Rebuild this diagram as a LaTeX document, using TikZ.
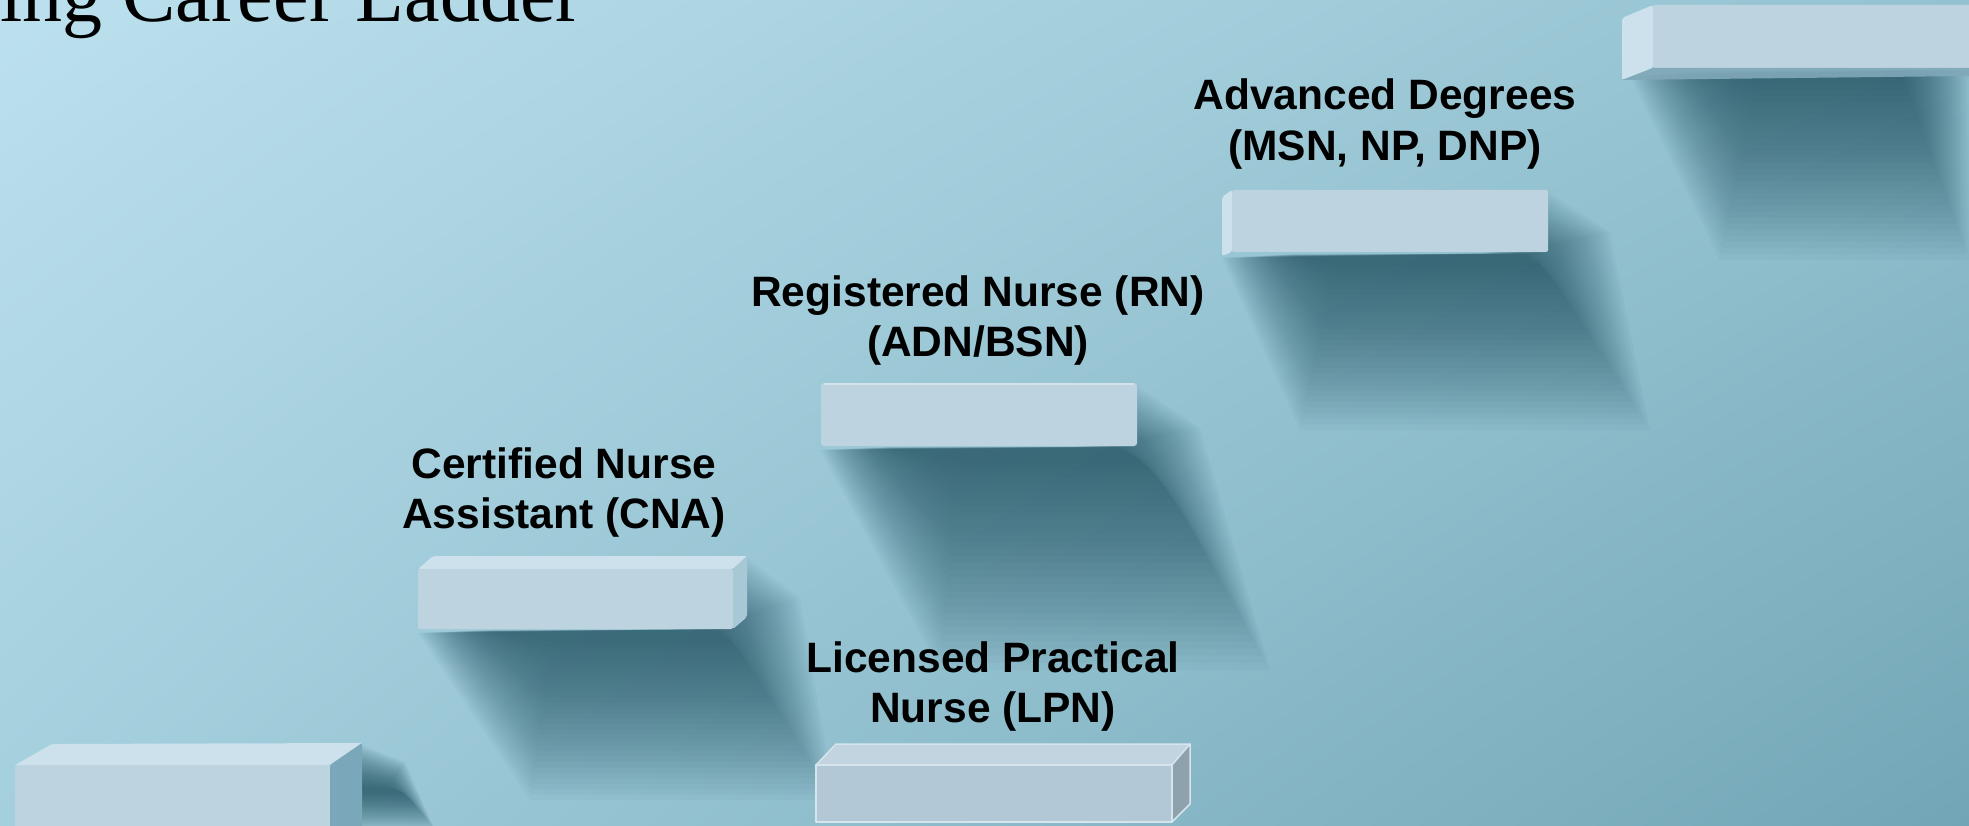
\documentclass[tikz,border=0pt]{standalone}
\usepackage{fontspec}
\setmainfont{Liberation Serif}
\setsansfont{Liberation Sans}
\usetikzlibrary{shadings}
\definecolor{bgUL}{RGB}{188,224,238}
\definecolor{bgUR}{RGB}{148,194,208}
\definecolor{bgLL}{RGB}{164,207,221}
\definecolor{bgLR}{RGB}{114,166,182}
\definecolor{shadowc}{RGB}{24,72,88}
\definecolor{stTop}{RGB}{204,225,235}
\definecolor{stFront}{RGB}{189,211,224}
\definecolor{stSide}{RGB}{168,200,214}
\definecolor{stSideDark}{RGB}{122,168,186}
\definecolor{stBottom}{RGB}{128,168,184}
\definecolor{lpnTop}{RGB}{194,212,224}
\definecolor{lpnFront}{RGB}{178,200,214}
\definecolor{lpnSide}{RGB}{142,162,174}
\definecolor{lpnLine}{RGB}{214,228,236}
\newcommand{\castshadow}[3]{%
  \foreach \k in {0,...,29}{%
    \pgfmathsetmacro{\shx}{1-0.014*\k}%
    \pgfmathsetmacro{\shy}{1-0.032*\k}%
    \begin{scope}[shift={(#1,#2)}, xscale=\shx, yscale=\shy, shift={(-#1,-#2)}]
      \fill[shadowc, opacity=0.034] #3;
    \end{scope}
  }%
}
\begin{document}
\begin{tikzpicture}[x=1pt,y=-1pt,
  lbl/.style={font=\sffamily\bfseries\fontsize{42.5}{50}\selectfont, anchor=base, inner sep=0pt, text=black},
  titlestyle/.style={font=\rmfamily\fontsize{80}{90}\selectfont, anchor=base west, inner sep=0pt, text=black},
  face/.style={rounded corners=2pt},
]
\useasboundingbox (0,0) rectangle (1969,826);
\clip (0,0) rectangle (1969,826);
% background wall
\shade[upper left=bgUL, upper right=bgUR, lower left=bgLL, lower right=bgLR] (0,0) rectangle (1969,826);

% shadows cast on the wall
\castshadow{1810}{70}{(1630,76) -- (1969,70) -- (1969,260) -- (1720,260) -- cycle}
\castshadow{1390}{254}{(1222,258) -- (1548,253) -- (1548,192) -- (1610,232) -- (1650,430) -- (1300,430) -- cycle}
\castshadow{985}{447}{(820,450) -- (1137,447) -- (1137,386) -- (1200,428) -- (1270,670) -- (940,670) -- cycle}
\castshadow{585}{630}{(418,633) -- (733,629) -- (747,558) -- (800,598) -- (835,800) -- (530,800) -- cycle}
\castshadow{362}{790}{(362,745) -- (405,762) -- (435,830) -- (362,830) -- cycle}

% step 1 (bottom left)
\fill[face, stFront] (15,765) rectangle (330,840);
\fill[face, stTop] (15,765) -- (52,744) -- (362,743) -- (330,765) -- cycle;
\fill[face, stSideDark] (330,765) -- (362,743) -- (362,840) -- (330,840) -- cycle;

% step 2 (CNA)
\fill[face, stFront] (418,569) rectangle (733,629);
\fill[face, stTop] (418,569) -- (433,556) -- (747,556) -- (733,569) -- cycle;
\fill[face, stSide] (733,569) -- (747,556) -- (747,617) -- (733,629) -- cycle;

% step 4 (RN)
\fill[rounded corners=3pt, stFront] (821,383) rectangle (1137,446);
\draw[white, opacity=0.35, line width=1.2pt] (824,384) -- (1134,384);

% step 5 (advanced)
\fill[face, stTop] (1222,197) -- (1232,190) -- (1232,252) -- (1222,256) -- cycle;
\fill[face, stFront] (1232,190) rectangle (1548,252);

% step 6 (top right)
\fill[face, stTop] (1622,18) -- (1653,5) -- (1653,68) -- (1622,80) -- cycle;
\fill[face, stFront] (1653,5) rectangle (1980,68);
\fill[stBottom, opacity=0.9] (1622,80) -- (1653,68) -- (1969,68) -- (1969,76) -- cycle;

% step 3 (LPN, outlined box)
\filldraw[fill=lpnTop, draw=lpnLine, line width=1.5pt, line join=round] (816,765) -- (836,744) -- (1190,744) -- (1172,765) -- cycle;
\filldraw[fill=lpnFront, draw=lpnLine, line width=1.5pt, line join=round] (816,765) rectangle (1172,822);
\filldraw[fill=lpnSide, draw=lpnLine, line width=1.5pt, line join=round] (1172,765) -- (1190,744) -- (1190,804) -- (1172,822) -- cycle;

% title (cut by the frame, as in the reference)
\node[titlestyle] (title) at (0,22) {ing Career Ladder};

% labels
\node[lbl] (adv1) at (1385,110) {Advanced Degrees};
\node[lbl] (adv2) at (1385,161) {(MSN, NP, DNP)};
\node[lbl] (rn1) at (978,306) {Registered Nurse (RN)};
\node[lbl] (rn2) at (978,356) {(ADN/BSN)};
\node[lbl] (cna1) at (564,478) {Certified Nurse};
\node[lbl] (cna2) at (564,528) {Assistant (CNA)};
\node[lbl] (lpn1) at (993,672) {Licensed Practical};
\node[lbl] (lpn2) at (993,722) {Nurse (LPN)};
\end{tikzpicture}
\end{document}
